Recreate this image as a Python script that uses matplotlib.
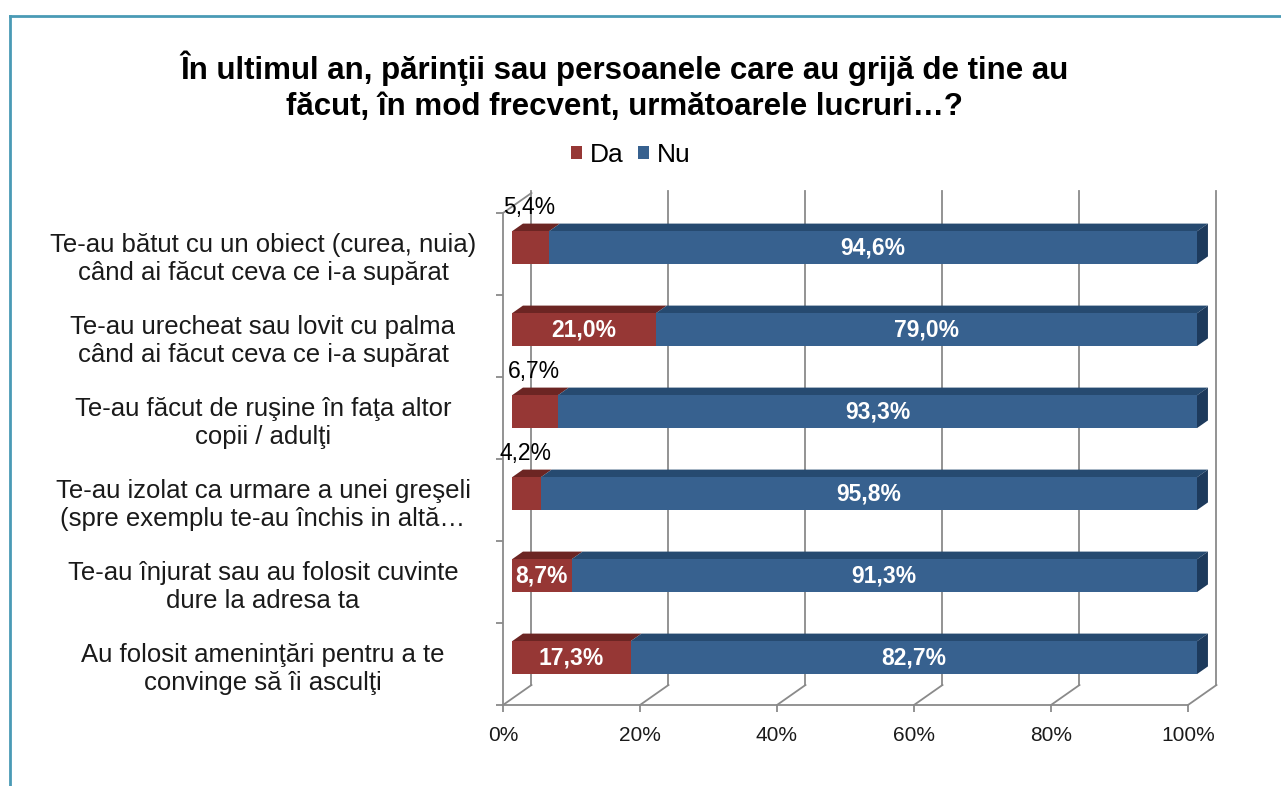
import matplotlib
matplotlib.use("Agg")
import matplotlib.pyplot as plt
from matplotlib.patches import Polygon
from matplotlib.lines import Line2D
import matplotlib.transforms as mtransforms

# ---------------- data ----------------
title = ("În ultimul an, părinţii sau persoanele care au grijă de tine au\n"
         "făcut, în mod frecvent, următoarele lucruri…?")
categories = [
    "Te-au bătut cu un obiect (curea, nuia)\ncând ai făcut ceva ce i-a supărat",
    "Te-au urecheat sau lovit cu palma\ncând ai făcut ceva ce i-a supărat",
    "Te-au făcut de ruşine în faţa altor\ncopii / adulţi",
    "Te-au izolat ca urmare a unei greşeli\n(spre exemplu te-au închis in altă…",
    "Te-au înjurat sau au folosit cuvinte\ndure la adresa ta",
    "Au folosit ameninţări pentru a te\nconvinge să îi asculţi",
]
da = [5.4, 21.0, 6.7, 4.2, 8.7, 17.3]
nu = [94.6, 79.0, 93.3, 95.8, 91.3, 82.7]
series_names = ["Da", "Nu"]
xticks = [0, 20, 40, 60, 80, 100]
xtick_labels = ["0%", "20%", "40%", "60%", "80%", "100%"]

# ---------------- style ----------------
W, H, DPI = 1281, 786, 100
RED_FRONT, RED_TOP = "#963735", "#6c2523"
BLUE_FRONT, BLUE_TOP, BLUE_SIDE = "#37618f", "#264a70", "#1d3a5c"
GRID = "#8a8a8a"
FRAME = "#4a9ab5"
FONT = ["Liberation Sans", "DejaVu Sans"]

DX = 4.16     # full depth offset in x (percent units)
DY = 0.244    # full depth offset in y (row units)
D1 = 0.316    # bar front depth fraction
D2 = 0.70     # bar back depth fraction
BAR_H = 0.40

plt.rcParams["font.family"] = FONT

fig = plt.figure(figsize=(W / DPI, H / DPI), dpi=DPI)
fig.patch.set_facecolor("white")
ax = fig.add_axes([503 / W, (H - 705) / H, 685 / W, 492 / H])
ax.set_xlim(0, 100)
ax.set_ylim(-0.5, 5.5)
ax.patch.set_alpha(0)

n = len(categories)
ypos = [n - 1 - i for i in range(n)]

# back wall / floor / side wall lines
for xt in xticks:
    ax.add_line(Line2D([xt + DX, xt + DX], [-0.5 + DY, 5.5 + DY + 0.03], color=GRID, lw=1.3,
                       clip_on=False, zorder=1))
    ax.add_line(Line2D([xt, xt + DX], [-0.5, -0.5 + DY], color=GRID, lw=1.3,
                       clip_on=False, zorder=1))
ax.add_line(Line2D([0, DX], [5.5, 5.5 + DY], color=GRID, lw=1.3, clip_on=False, zorder=1))

# bars
yfront = [y + D1 * DY for y in ypos]
b1 = ax.barh(yfront, da, left=D1 * DX, height=BAR_H, color=RED_FRONT, zorder=3,
             label=series_names[0])
b2 = ax.barh(yfront, nu, left=[D1 * DX + d for d in da], height=BAR_H, color=BLUE_FRONT,
             zorder=3, label=series_names[1])
for p in list(b1) + list(b2):
    p.set_clip_on(False)

for y, d, u in zip(ypos, da, nu):
    yt1 = y + D1 * DY + BAR_H / 2
    yt2 = y + D2 * DY + BAR_H / 2
    yb1 = y + D1 * DY - BAR_H / 2
    yb2 = y + D2 * DY - BAR_H / 2
    segs = [(0, d, RED_TOP), (d, d + u, BLUE_TOP)]
    for a, b, c in segs:
        ax.add_patch(Polygon([(a + D1 * DX, yt1), (b + D1 * DX, yt1),
                              (b + D2 * DX, yt2), (a + D2 * DX, yt2)],
                             closed=True, facecolor=c, edgecolor="none",
                             clip_on=False, zorder=2.5))
    e = d + u
    ax.add_patch(Polygon([(e + D1 * DX, yb1), (e + D1 * DX, yt1),
                          (e + D2 * DX, yt2), (e + D2 * DX, yb2)],
                         closed=True, facecolor=BLUE_SIDE, edgecolor="none",
                         clip_on=False, zorder=2.5))

# data labels
def fmt(v):
    return f"{v:.1f}%".replace(".", ",")

LBL = 16.5
for y, d, u in zip(ypos, da, nu):
    yc = y + D1 * DY
    if d >= 8:
        ax.text(D1 * DX + d / 2, yc, fmt(d), ha="center", va="center", color="white",
                fontsize=LBL, fontweight="bold", zorder=5)
    else:
        ax.text(D1 * DX + d / 2 - 0.2, yc + BAR_H / 2 + 0.29, fmt(d), ha="center",
                va="center", color="black", fontsize=LBL, zorder=5, clip_on=False)
    ax.text(D1 * DX + d + u / 2, yc, fmt(u), ha="center", va="center", color="white",
            fontsize=LBL, fontweight="bold", zorder=5)

# axes styling
for s in ["top", "right"]:
    ax.spines[s].set_visible(False)
for s in ["left", "bottom"]:
    ax.spines[s].set_color(GRID)
    ax.spines[s].set_linewidth(1.3)
ax.set_xticks(xticks)
ax.set_xticklabels(xtick_labels)
ax.set_yticks([k - 0.5 for k in range(n + 1)])
ax.set_yticklabels([])
ax.tick_params(axis="both", direction="out", length=5, width=1.3, color=GRID)
ax.tick_params(axis="x", pad=10, labelsize=15, labelcolor="#1a1a1a")

# category labels
trans = mtransforms.blended_transform_factory(fig.transFigure, ax.transData)
for y, c in zip(ypos, categories):
    ax.text(263 / W, y - 0.06, c, transform=trans, ha="center", va="center", fontsize=18.5,
            linespacing=1.17, color="#1a1a1a", clip_on=False)

# title & legend
fig.text(624 / W, 1 - 86 / H, title, ha="center", va="center", fontsize=22.5,
         fontweight="bold", linespacing=1.28)
fig.legend(handles=[b1, b2], labels=series_names, loc="center", ncol=2,
           bbox_to_anchor=(631 / W, 1 - 155 / H), frameon=False, fontsize=19,
           handlelength=0.42, handleheight=0.42, handletextpad=0.3, columnspacing=0.55)

# outer frame
fig.add_artist(Line2D([9.5 / W, 1.0], [1 - 15.5 / H, 1 - 15.5 / H], color=FRAME, lw=2,
                      transform=fig.transFigure))
fig.add_artist(Line2D([9.5 / W, 9.5 / W], [0, 1 - 15.5 / H], color=FRAME, lw=2,
                      transform=fig.transFigure))

fig.savefig("out.png", dpi=DPI)
